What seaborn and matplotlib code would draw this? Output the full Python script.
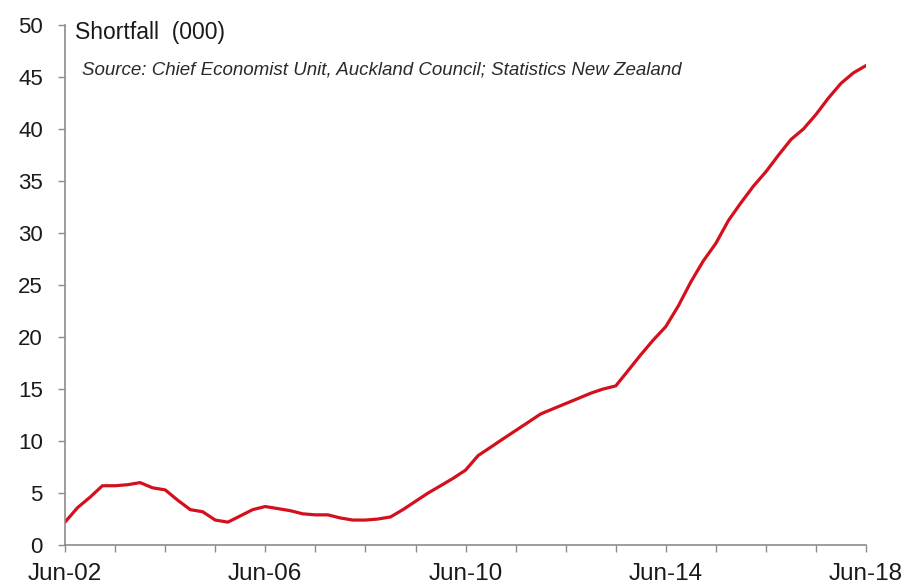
import pandas as pd
import numpy as np
import matplotlib.pyplot as plt
import seaborn as sns

# Quarterly housing shortfall (000), Jun-02 to Jun-18
quarters = pd.date_range('2002-06-01', '2018-06-01', freq='3MS')
shortfall = [2.2, 3.6, 4.6, 5.7, 5.7, 5.8, 6.0, 5.5, 5.3, 4.3,
             3.4, 3.2, 2.4, 2.2, 2.8, 3.4, 3.7, 3.5, 3.3, 3.0,
             2.9, 2.9, 2.6, 2.4, 2.4, 2.5, 2.7, 3.4, 4.2, 5.0,
             5.7, 6.4, 7.2, 8.6, 9.4, 10.2, 11.0, 11.8, 12.6, 13.1,
             13.6, 14.1, 14.6, 15.0, 15.3, 16.8, 18.3, 19.7, 21.0, 23.0,
             25.3, 27.3, 29.0, 31.2, 32.9, 34.5, 35.9, 37.5, 39.0, 40.0,
             41.4, 43.0, 44.4, 45.4, 46.1]
y_ticks = [0, 5, 10, 15, 20, 25, 30, 35, 40, 45, 50]
x_label_dates = ['2002-06-01', '2006-06-01', '2010-06-01', '2014-06-01', '2018-06-01']
x_labels = ['Jun-02', 'Jun-06', 'Jun-10', 'Jun-14', 'Jun-18']

df = pd.DataFrame({'quarter': quarters, 'shortfall': shortfall})

sns.set_style('white')
plt.rcParams['font.family'] = ['Liberation Sans', 'DejaVu Sans']

fig = plt.figure(figsize=(9.08, 5.88), dpi=100)
ax = fig.add_axes([0.0716, 0.0731, 0.8822, 0.8844])

sns.lineplot(data=df, x='quarter', y='shortfall', ax=ax, color='#d40f1e', linewidth=2.3)

ax.set_ylim(0, 50)
ax.set_yticks(y_ticks)
ax.set_xlim(quarters[0], quarters[-1])

# yearly minor ticks, labels every four years
ax.set_xticks(pd.to_datetime(x_label_dates))
ax.set_xticklabels(x_labels)
ax.set_xticks(quarters[::4], minor=True)

ax.set_xlabel('')
ax.set_ylabel('')
for side in ['top', 'right']:
    ax.spines[side].set_visible(False)
for side in ['left', 'bottom']:
    ax.spines[side].set_color('#8c8c8c')
    ax.spines[side].set_linewidth(1.2)

ax.tick_params(axis='y', which='both', direction='out', length=5, width=1,
               color='#8c8c8c', labelsize=16, pad=11, labelcolor='#1a1a1a', left=True)
ax.tick_params(axis='x', which='both', direction='out', length=5, width=1,
               color='#8c8c8c', labelsize=17.5, pad=8, labelcolor='#1a1a1a', bottom=True)

ax.text(0.012, 0.985, 'Shortfall  (000)', transform=ax.transAxes, fontsize=16.5,
        color='#1a1a1a', va='center', ha='left')
ax.text(0.021, 0.914, 'Source: Chief Economist Unit, Auckland Council; Statistics New Zealand',
        transform=ax.transAxes, fontsize=13.5, style='italic', color='#2a2a2a',
        va='center', ha='left')

plt.savefig('out.png', dpi=100)
